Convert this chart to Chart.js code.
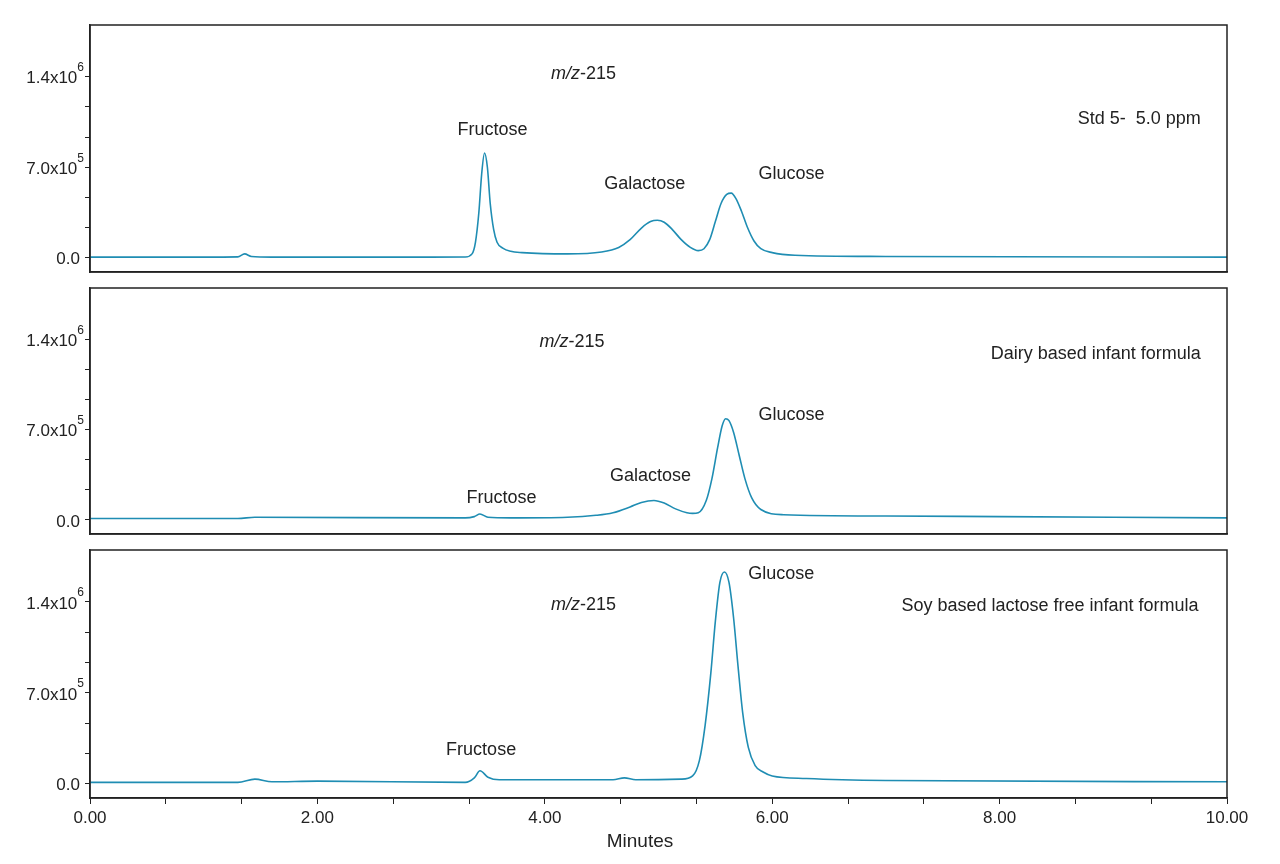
<!DOCTYPE html>
<html lang="en">
<head>
  <meta charset="UTF-8">
  <title>m/z-215 chromatograms</title>
  <style>
    body { margin: 0; background: #fff; font-family: 'Liberation Sans', Arial, sans-serif; }
    .panel { position: absolute; left: 0; width: 1280px; }
    #title { position: absolute; top: 830px; left: 0; width: 1280px; text-align: center; font-size: 19px; color: #222; }
  </style>
</head>
<body>

<div class="panel" style="top:0;height:280px"><canvas id="p1"></canvas></div>
<div class="panel" style="top:280px;height:262px"><canvas id="p2"></canvas></div>
<div class="panel" style="top:542px;height:322px"><canvas id="p3"></canvas></div>
<div id="title">Minutes</div>

<script src="https://cdn.jsdelivr.net/npm/chart.js"></script>
<script>
  // retention time (min) and intensity (x1e5 counts)
  const stdTime = [0, 1.0, 1.3, 1.36, 1.42, 1.6, 3.0, 3.3, 3.36, 3.39, 3.42, 3.445, 3.47, 3.495, 3.52, 3.55, 3.58, 3.63, 3.7, 3.8, 4.2, 4.5, 4.65, 4.75, 4.85, 4.93, 4.99, 5.05, 5.12, 5.2, 5.28, 5.35, 5.4, 5.45, 5.5, 5.55, 5.6, 5.64, 5.68, 5.73, 5.78, 5.84, 5.9, 6.0, 6.2, 7, 10];
  const stdSignal = [0.05, 0.05, 0.07, 0.3, 0.1, 0.05, 0.05, 0.06, 0.3, 1.2, 3.5, 6.5, 8.1, 7.0, 4.2, 2.2, 1.2, 0.75, 0.5, 0.4, 0.3, 0.45, 0.8, 1.4, 2.3, 2.8, 2.9, 2.75, 2.2, 1.4, 0.8, 0.55, 0.7, 1.4, 2.8, 4.2, 4.9, 5.0, 4.6, 3.6, 2.4, 1.3, 0.7, 0.4, 0.2, 0.1, 0.05];

  const dairyTime = [0, 1.3, 1.45, 3.3, 3.38, 3.43, 3.5, 3.7, 4.2, 4.45, 4.6, 4.75, 4.85, 4.96, 5.05, 5.15, 5.25, 5.3, 5.35, 5.42, 5.47, 5.52, 5.56, 5.59, 5.62, 5.66, 5.71, 5.76, 5.82, 5.9, 6.1, 7, 8, 10];
  const dairySignal = [0.1, 0.1, 0.2, 0.15, 0.25, 0.45, 0.2, 0.15, 0.2, 0.35, 0.55, 1.0, 1.35, 1.5, 1.3, 0.85, 0.55, 0.5, 0.55, 1.5, 3.2, 5.6, 7.3, 7.85, 7.7, 6.8, 5.0, 3.2, 1.7, 0.8, 0.4, 0.3, 0.25, 0.15];

  const soyTime = [0, 1.3, 1.45, 1.6, 2.0, 3.3, 3.38, 3.43, 3.5, 3.6, 4.6, 4.7, 4.8, 5.2, 5.3, 5.36, 5.41, 5.46, 5.5, 5.54, 5.58, 5.62, 5.66, 5.7, 5.74, 5.79, 5.85, 5.92, 6.0, 6.3, 7, 10];
  const soySignal = [0.1, 0.1, 0.35, 0.15, 0.2, 0.1, 0.45, 1.0, 0.5, 0.3, 0.3, 0.45, 0.3, 0.35, 0.6, 1.8, 4.5, 8.5, 12.5, 15.5, 16.3, 15.5, 12.8, 9.0, 5.5, 2.8, 1.4, 0.9, 0.6, 0.4, 0.25, 0.15];

  const yTickValues = [0, 7e5, 14e5];
  const yTickLabels = [['0.0', ''], ['7.0x10', '5'], ['1.4x10', '6']];
  const xTickLabels = ['0.00', '2.00', '4.00', '6.00', '8.00', '10.00'];

  // [text, time, intensity x1e5, align]
  const stdNotes = [['m/z-215', 4.34, 14.6, 'center'], ['Fructose', 3.54, 10.3, 'center'], ['Galactose', 4.88, 6.1, 'center'], ['Glucose', 6.17, 6.9, 'center'], ['Std 5-  5.0 ppm', 9.77, 11.1, 'right']];
  const dairyNotes = [['m/z-215', 4.24, 14.2, 'center'], ['Fructose', 3.62, 2.1, 'center'], ['Galactose', 4.93, 3.8, 'center'], ['Glucose', 6.17, 8.55, 'center'], ['Dairy based infant formula', 9.77, 13.3, 'right']];
  const soyNotes = [['m/z-215', 4.34, 14.15, 'center'], ['Glucose', 6.08, 16.5, 'center'], ['Fructose', 3.44, 3.0, 'center'], ['Soy based lactose free infant formula', 9.75, 14.1, 'right']];

  const lineColor = '#1f8db3';
  const ink = '#222';
  const font = "'Liberation Sans', Arial, sans-serif";

  const panelPlugin = {
    id: 'panelDeco',
    afterDraw(chart) {
      const c = chart.ctx, a = chart.chartArea;
      const xs = chart.scales.x, ys = chart.scales.y;
      c.save();
      c.strokeStyle = ink;
      c.lineWidth = 1.5;
      c.strokeRect(a.left, a.top, a.right - a.left, a.bottom - a.top);
      // y tick labels with superscript exponent
      c.fillStyle = ink;
      c.textBaseline = 'middle';
      yTickValues.forEach((v, i) => {
        const y = ys.getPixelForValue(v);
        const [base, exp] = yTickLabels[i];
        let x = a.left - 6;
        c.textAlign = 'right';
        if (exp) {
          c.font = '12px ' + font;
          c.fillText(exp, x, y - 9);
          x -= c.measureText(exp).width;
        } else {
          x -= 4;
        }
        c.font = '17px ' + font;
        c.fillText(base, x, y + 2);
      });
      // annotations
      chart.options.plugins.panelDeco.notes.forEach(([t, tx, ty, align]) => {
        const px = xs.getPixelForValue(tx), py = ys.getPixelForValue(ty * 1e5) + 5;
        c.font = '18px ' + font;
        c.textAlign = align;
        if (t.startsWith('m/z')) {
          c.font = 'italic 18px ' + font;
          const w1 = c.measureText('m/z').width;
          c.font = '18px ' + font;
          const w2 = c.measureText('-215').width;
          const left = px - (w1 + w2) / 2;
          c.textAlign = 'left';
          c.font = 'italic 18px ' + font;
          c.fillText('m/z', left, py);
          c.font = '18px ' + font;
          c.fillText('-215', left + w1, py);
        } else {
          c.fillText(t, px, py);
        }
      });
      c.restore();
    }
  };

  function makePanel(id, time, signal, notes, padTop, xHeight, showX) {
    new Chart(document.getElementById(id), {
      type: 'line',
      data: {
        datasets: [{
          data: time.map((t, i) => ({ x: t, y: signal[i] * 1e5 })),
          borderColor: lineColor,
          borderWidth: 1.6,
          pointRadius: 0,
          cubicInterpolationMode: 'monotone'
        }]
      },
      options: {
        responsive: true,
        maintainAspectRatio: false,
        animation: false,
        layout: { padding: { top: padTop, right: 53, left: 0, bottom: 0 } },
        plugins: { legend: { display: false }, tooltip: { enabled: false }, panelDeco: { notes: notes } },
        scales: {
          x: {
            type: 'linear', min: 0, max: 10,
            afterBuildTicks: s => { s.ticks = showX ? Array.from({ length: 16 }, (_, i) => ({ value: i * 2 / 3 })) : []; },
            afterFit: s => { s.height = xHeight; },
            grid: { drawOnChartArea: false, drawTicks: showX, tickLength: 6, color: ink },
            border: { color: ink, width: 1.5 },
            ticks: {
              display: showX, color: ink, font: { size: 17, family: font }, padding: 4, maxRotation: 0, autoSkip: false,
              callback: v => { const k = v / 2; return Math.abs(k - Math.round(k)) < 1e-6 ? xTickLabels[Math.round(k)] : ''; }
            }
          },
          y: {
            min: -1.1e5, max: 1.8e6,
            afterBuildTicks: s => { s.ticks = Array.from({ length: 7 }, (_, i) => ({ value: i * 7e5 / 3 })); },
            afterFit: s => { s.width = 90; },
            grid: { drawOnChartArea: false, tickLength: 5, color: ink },
            border: { color: ink, width: 1.5 },
            ticks: { display: false }
          }
        }
      },
      plugins: [panelPlugin]
    });
  }

  makePanel('p1', stdTime, stdSignal, stdNotes, 25, 8, false);
  makePanel('p2', dairyTime, dairySignal, dairyNotes, 8, 8, false);
  makePanel('p3', soyTime, soySignal, soyNotes, 8, 66, true);
</script>

</body>
</html>
